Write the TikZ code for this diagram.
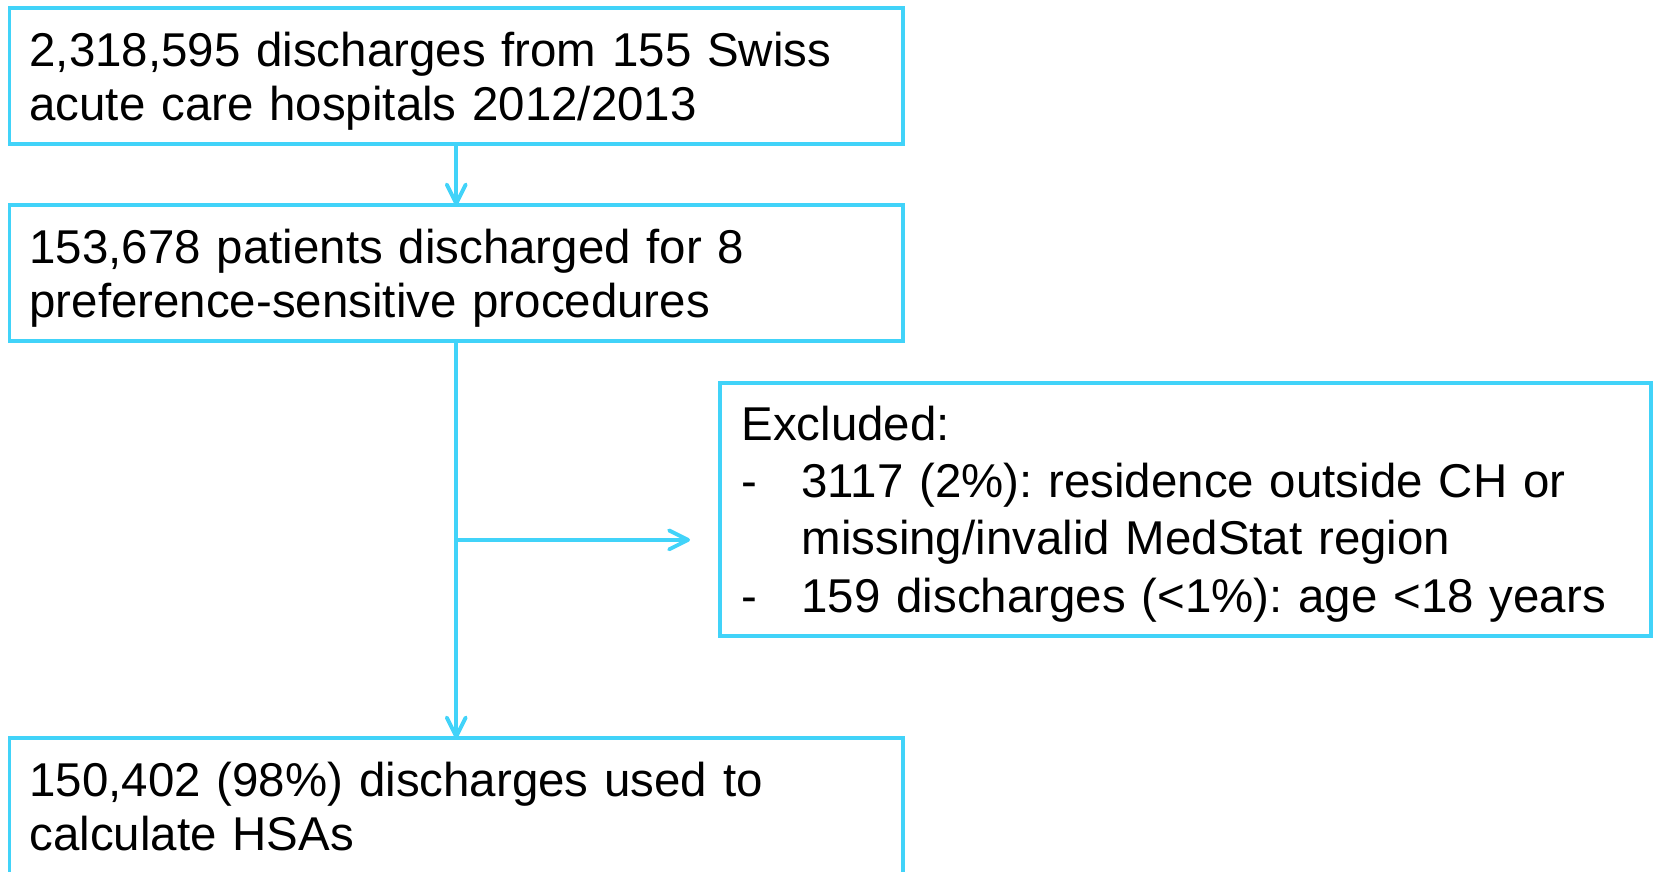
\documentclass[tikz,border=0pt]{standalone}
\usepackage{fontspec}
\setmainfont{Liberation Sans}
\usetikzlibrary{
calc,
positioning,
arrows.meta,
}
\definecolor{flowblue}{RGB}{65,211,249}
\tikzset{
node distance=6.1mm,
outer sep=0pt,
every node/.style={align=left},
process/.style={rectangle, draw=flowblue, line width=1.1pt,
    inner xsep=2mm, text width=85.35mm, minimum height=13.6mm,
    font=\fontsize{13.5}{15.4}\selectfont,
    execute at begin node={\rule{0pt}{12.5pt}},
    execute at end node={\rule[-3pt]{0pt}{3pt}}},
note/.style={process, inner xsep=2.15mm, text width=88.8mm,
    minimum height=25.3mm, font=\fontsize{13.5}{16.3}\selectfont},
link/.style={draw=flowblue, line width=1.1pt, ->},
>={Straight Barb[length=1.9mm, width=1.9mm, round]},
}
\newcommand{\bul}{\makebox[6mm][l]{-}}
\frenchspacing

\begin{document}
\begin{tikzpicture}
\useasboundingbox (0,0) rectangle (165.4mm,-87.2mm);
\node (dis) [process, anchor=north west] at (0.95mm,-0.84mm)
    {2,318,595 discharges from 155 Swiss\\acute care hospitals 2012/2013};
\node (pat) [process, below=of dis]
    {153,678 patients discharged for 8\\preference-sensitive procedures};
\node (hsa) [process, below=39.7mm of pat]
    {150,402 (98\%) discharges used to\\calculate HSAs};
\node (excl) [note, anchor=north west] at (72mm,-38.3mm)
    {Excluded:\\
     \bul 3117 (2\%): residence outside CH or\\
     \hspace*{6mm}missing/invalid MedStat region\\
     \bul 159 discharges (<1\%): age <18 years};
% branch to the exclusions
\coordinate (split) at ($(pat.south)!.5!(hsa.north)$);
\draw [link] (dis) -- (pat);
\draw [link] (pat) -- (hsa);
\draw [link, shorten >=3mm] (split) -- (split -| excl.west);
\end{tikzpicture}
\end{document}
